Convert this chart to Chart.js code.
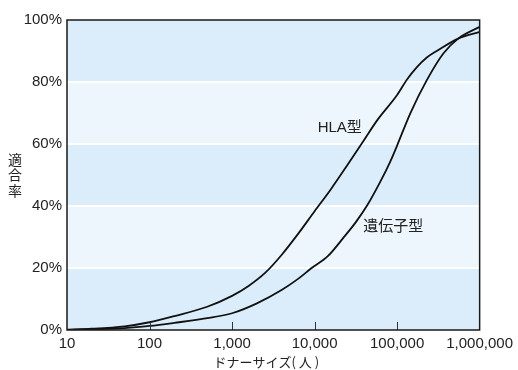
<!DOCTYPE html>
<html>
<head>
<meta charset="utf-8">
<script src="https://cdn.jsdelivr.net/npm/chart.js@4"></script>
<style>
html,body{margin:0;padding:0;background:#fff;}
canvas{display:block;}
</style>
</head>
<body>
<canvas id="c" width="518" height="370"></canvas>
<script>
// ---- data ----
const xTicks = [10, 100, 1000, 10000, 100000, 1000000];
const yTicks = [0, 20, 40, 60, 80, 100];

const hlaX = [10, 20, 50, 100, 200, 500, 1000, 1585, 2512, 3981, 6310, 10000, 15849, 25119, 39811, 57544, 100000, 131826, 173780, 229087, 301995, 549541, 1000000];
const hlaY = [0.1, 0.4, 1.2, 2.5, 4.5, 7.5, 11, 14.2, 18.4, 24.2, 31, 38.3, 45.5, 53.3, 61.3, 67.7, 75.8, 80.8, 84.8, 87.9, 90, 94, 96.2];

const geneX = [10, 20, 50, 100, 200, 500, 1000, 2000, 3981, 6310, 9120, 14454, 22909, 31623, 43652, 63096, 83176, 100000, 144544, 229087, 363078, 549541, 1000000];
const geneY = [0.05, 0.2, 0.6, 1.3, 2.3, 3.8, 5.4, 8.6, 12.9, 16.5, 19.9, 23.8, 30.1, 34.8, 40.3, 48, 54.5, 59.5, 69.9, 80.6, 89.2, 94, 97.8];

const seriesNames = ['HLA型', '遺伝子型'];
const labelAt = [{x: 20200, y: 65.3}, {x: 90000, y: 33.3}];
const xTitle = 'ドナーサイズ( 人 )';
const yTitle = '適合率';

const FONT = "'Liberation Sans', 'Noto Sans CJK JP', sans-serif";
const FONT_JP = "'Noto Sans CJK JP', sans-serif";
const TXT = '#222';

const toPts = (xs, ys) => xs.map((x, i) => ({x, y: ys[i]}));

const deco = {
  id: 'deco',
  beforeDraw(chart) {
    const {ctx, chartArea: a, scales: {y}} = chart;
    ctx.save();
    for (let i = 0; i < yTicks.length - 1; i++) {
      const top = y.getPixelForValue(yTicks[i + 1]);
      const bot = y.getPixelForValue(yTicks[i]);
      ctx.fillStyle = i % 2 === 0 ? '#dbedfb' : '#eef6fd';
      ctx.fillRect(a.left, top, a.right - a.left, bot - top);
    }
    ctx.restore();
  },
  afterDraw(chart) {
    const {ctx, chartArea: a, scales: {x, y}} = chart;
    ctx.save();
    // tick marks inside the bottom edge
    ctx.strokeStyle = '#333';
    ctx.lineWidth = 1;
    xTicks.slice(1, -1).forEach(v => {
      const px = Math.round(x.getPixelForValue(v)) + 0.5;
      ctx.beginPath();
      ctx.moveTo(px, a.bottom);
      ctx.lineTo(px, a.bottom - 8);
      ctx.stroke();
    });
    // frame
    ctx.strokeStyle = '#1a1a1a';
    ctx.lineWidth = 1.5;
    ctx.strokeRect(a.left, a.top, a.right - a.left, a.bottom - a.top);
    // series labels
    ctx.fillStyle = TXT;
    ctx.font = '15px ' + FONT;
    ctx.textAlign = 'center';
    ctx.textBaseline = 'middle';
    labelAt.forEach((p, i) => {
      ctx.fillText(seriesNames[i], x.getPixelForValue(p.x), y.getPixelForValue(p.y));
    });
    // x title
    ctx.font = '13px ' + FONT_JP;
    ctx.fillText(xTitle, (a.left + a.right) / 2 - 7, a.bottom + 32);
    // vertical (stacked) y title
    ctx.font = '14px ' + FONT_JP;
    const chars = Array.from(yTitle);
    const cy = (a.top + a.bottom) / 2;
    const step = 15.5;
    chars.forEach((ch, i) => {
      ctx.fillText(ch, 15, cy + (i - (chars.length - 1) / 2) * step);
    });
    ctx.restore();
  }
};

new Chart(document.getElementById('c'), {
  type: 'line',
  data: {
    datasets: [
      {label: seriesNames[0], data: toPts(hlaX, hlaY)},
      {label: seriesNames[1], data: toPts(geneX, geneY)}
    ].map(d => Object.assign(d, {
      borderColor: '#111',
      borderWidth: 1.8,
      pointRadius: 0,
      fill: false,
      cubicInterpolationMode: 'monotone'
    }))
  },
  options: {
    responsive: false,
    animation: false,
    devicePixelRatio: 1,
    layout: {padding: {left: 0, right: 35, top: 20, bottom: 0}},
    plugins: {legend: {display: false}, tooltip: {enabled: false}},
    scales: {
      x: {
        type: 'logarithmic',
        min: 10,
        max: 1000000,
        afterBuildTicks: s => { s.ticks = xTicks.map(v => ({value: v})); },
        afterFit: s => { s.height = 40; },
        grid: {display: false, drawTicks: false, tickLength: 0},
        border: {display: false},
        ticks: {
          autoSkip: false,
          maxRotation: 0,
          padding: 5,
          color: TXT,
          font: {family: FONT, size: 15},
          callback: v => Number(v).toLocaleString('en-US')
        },
        title: {display: false}
      },
      y: {
        min: 0,
        max: 100,
        afterBuildTicks: s => { s.ticks = yTicks.map(v => ({value: v})); },
        afterFit: s => { s.width = 67; },
        border: {display: false},
        grid: {
          drawTicks: false,
          lineWidth: 2,
          color: c => (c.tick && c.tick.value > 0 && c.tick.value < 100) ? '#ffffff' : 'rgba(0,0,0,0)'
        },
        ticks: {
          padding: 5,
          color: TXT,
          font: {family: FONT, size: 15},
          callback: v => v + '%'
        }
      }
    }
  },
  plugins: [deco]
});
</script>
</body>
</html>
